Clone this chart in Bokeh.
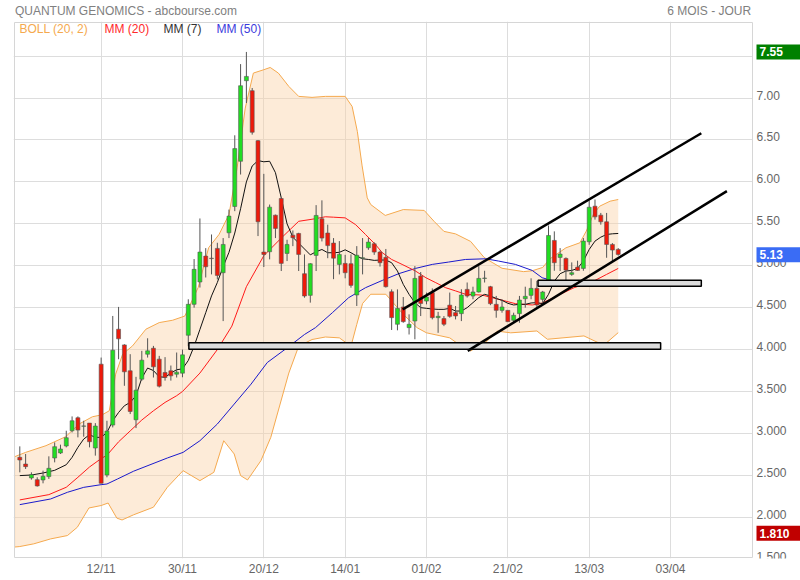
from bokeh.plotting import figure
from bokeh.models import Range1d, FixedTicker, Label, LinearAxis
from bokeh.embed import file_html
from bokeh.resources import INLINE

FONT = "Liberation Sans"

# ---------------- data ----------------
opens = [2.715, 2.635, 2.469, 2.449, 2.445, 2.485, 2.707, 2.767, 2.850, 3.032,
         3.187, 3.085, 3.123, 2.826, 3.826, 2.504, 3.100, 4.243, 4.056, 3.747,
         3.163, 3.647, 3.945, 4.016, 3.886, 3.727, 3.747, 3.707, 3.719, 4.171,
         4.540, 4.806, 5.115, 5.090, 5.207, 4.917, 5.393, 5.707, 6.246, 7.207,
         7.088, 6.492, 5.163, 5.167, 5.603, 5.802, 5.147, 5.365, 5.385, 4.905,
         4.647, 5.123, 5.560, 5.390, 5.270, 5.016, 5.028, 5.024, 4.651, 5.090,
         5.214, 5.262, 5.163, 5.100, 4.690, 4.302, 4.508, 4.262, 4.341, 4.877,
         4.579, 4.679, 4.381, 4.370, 4.530, 4.441, 4.429, 4.718, 4.639, 4.687,
         4.849, 4.750, 4.540, 4.468, 4.468, 4.349, 4.429, 4.607, 4.647, 4.730,
         4.599, 4.829, 5.302, 5.099, 5.087, 4.897, 4.984, 4.968, 5.286, 5.710,
         5.603, 5.524, 5.254, 5.195]
highs = [2.846, 2.755, 2.536, 2.477, 2.556, 2.727, 2.893, 2.866, 3.032, 3.203,
         3.203, 3.151, 3.123, 3.123, 3.905, 3.151, 4.401, 4.509, 4.064, 3.945,
         3.675, 3.985, 4.135, 4.044, 3.925, 3.910, 3.810, 3.965, 4.000, 4.600,
         5.080, 5.564, 5.210, 5.373, 5.274, 5.330, 5.670, 6.556, 7.405, 7.550,
         7.120, 6.500, 6.096, 5.730, 5.610, 5.810, 5.310, 5.421, 5.393, 5.135,
         5.030, 5.723, 5.780, 5.490, 5.330, 5.294, 5.130, 5.135, 5.234, 5.330,
         5.330, 5.280, 5.180, 5.200, 4.718, 4.718, 4.627, 4.420, 4.996, 4.925,
         4.680, 4.730, 4.450, 4.400, 4.680, 4.520, 4.720, 4.800, 4.750, 4.996,
         4.940, 4.760, 4.640, 4.600, 4.470, 4.440, 4.640, 4.750, 4.850, 4.820,
         4.700, 5.480, 5.410, 5.210, 5.100, 5.040, 5.060, 5.330, 5.778, 5.790,
         5.630, 5.630, 5.270, 5.210]
lows = [2.536, 2.576, 2.449, 2.366, 2.405, 2.457, 2.655, 2.755, 2.834, 3.012,
        2.953, 2.961, 2.834, 2.735, 2.405, 2.477, 3.072, 3.885, 3.568, 3.231,
        3.064, 3.628, 3.905, 3.667, 3.548, 3.630, 3.630, 3.667, 3.670, 4.040,
        4.500, 4.740, 4.860, 4.897, 4.837, 4.340, 5.330, 5.651, 6.088, 6.941,
        6.564, 5.354, 4.985, 5.076, 5.330, 4.937, 5.056, 5.234, 4.937, 4.619,
        4.560, 4.937, 5.290, 5.090, 4.840, 4.897, 4.850, 4.738, 4.520, 4.897,
        5.190, 5.130, 4.990, 4.740, 4.234, 4.230, 4.320, 4.180, 4.123, 4.400,
        4.540, 4.360, 4.200, 4.280, 4.380, 4.360, 4.340, 4.620, 4.600, 4.680,
        4.800, 4.530, 4.380, 4.440, 4.330, 4.330, 4.320, 4.500, 4.600, 4.500,
        4.540, 4.820, 4.940, 4.937, 4.830, 4.880, 4.940, 4.940, 5.250, 5.550,
        5.490, 5.095, 5.056, 5.120]
closes = [2.683, 2.604, 2.508, 2.374, 2.489, 2.584, 2.842, 2.814, 2.949, 3.151,
          3.040, 3.090, 2.901, 3.088, 2.405, 3.028, 3.993, 4.128, 3.735, 3.262,
          3.516, 3.874, 3.985, 3.794, 3.564, 3.667, 3.687, 3.731, 3.937, 4.540,
          4.957, 5.163, 4.988, 5.085, 4.885, 5.254, 5.592, 6.397, 7.147, 7.258,
          6.592, 5.524, 5.135, 5.699, 5.445, 5.028, 5.254, 5.334, 5.135, 4.639,
          5.024, 5.600, 5.330, 5.240, 5.090, 5.135, 4.917, 4.766, 5.125, 5.095,
          5.282, 5.163, 5.036, 4.750, 4.381, 4.492, 4.333, 4.302, 4.849, 4.550,
          4.627, 4.381, 4.397, 4.302, 4.397, 4.401, 4.651, 4.639, 4.687, 4.849,
          4.853, 4.548, 4.468, 4.508, 4.333, 4.409, 4.591, 4.635, 4.730, 4.532,
          4.687, 5.361, 5.036, 5.139, 4.948, 4.917, 4.944, 5.294, 5.698, 5.583,
          5.524, 5.254, 5.187, 5.135]

mm7_x = [0, 2, 4, 6, 8, 9, 10, 11, 12, 13, 14, 15, 16, 17, 18, 19, 20, 21, 22, 23,
         24, 25, 26, 27, 28, 29, 30, 31, 32, 33, 34, 35, 36, 37, 38, 39, 40, 41, 42,
         43, 44, 45, 46, 47, 48, 49, 50, 51, 52, 53, 54, 55, 56, 57, 58, 59, 60, 61,
         62, 63, 64, 65, 66, 67, 68, 69, 70, 71, 72, 73, 74, 75, 76, 77, 78, 79, 80,
         81, 82, 83, 84, 85, 86, 87, 88, 89, 90, 91, 92, 93, 94, 95, 96, 97, 98, 99,
         100, 101, 102, 103]
mm7_y = [2.497, 2.504, 2.528, 2.56, 2.627, 2.715, 2.834, 2.933, 2.985, 2.953, 2.953,
         3.012, 3.151, 3.25, 3.33, 3.37, 3.45, 3.66, 3.78, 3.75, 3.675, 3.67, 3.72,
         3.76, 3.77, 3.87, 4.04, 4.24, 4.44, 4.64, 4.80, 4.99, 5.16, 5.39, 5.68, 6.0,
         6.19, 6.254, 6.24, 6.246, 6.11, 5.81, 5.50, 5.34, 5.27, 5.20, 5.13, 5.167,
         5.194, 5.155, 5.155, 5.16, 5.19, 5.155, 5.115, 5.083, 5.075, 5.064, 5.068,
         5.068, 5.036, 4.937, 4.778, 4.659, 4.56, 4.50, 4.492, 4.484, 4.48, 4.48,
         4.492, 4.46, 4.46, 4.50, 4.56, 4.62, 4.659, 4.64, 4.61, 4.587, 4.552, 4.532,
         4.54, 4.54, 4.556, 4.56, 4.548, 4.659, 4.817, 4.905, 4.937, 4.944, 4.968,
         5.056, 5.194, 5.294, 5.341, 5.373, 5.381, 5.385]

mm20_x = [0, 5, 8, 10, 12, 14, 15, 17, 19, 21, 23, 25, 27, 28, 31, 34, 36.5, 39, 42,
          45, 48, 50.8, 52.6, 54, 56, 57.8, 59.5, 61.2, 62.4, 64, 65.8, 68.1, 69.9,
          71.6, 73.3, 75, 76.7, 79.6, 82.4, 85.3, 88.2, 89.6, 91.3, 93, 95.4, 98.8,
          101, 103]
mm20_y = [2.207, 2.27, 2.358, 2.477, 2.60, 2.70, 2.74, 2.90, 3.03, 3.16, 3.27, 3.37,
          3.45, 3.50, 3.72, 4.0, 4.28, 4.75, 5.12, 5.33, 5.53, 5.56, 5.584, 5.579,
          5.571, 5.49, 5.373, 5.254, 5.155, 5.075, 5.016, 4.937, 4.857, 4.798, 4.738,
          4.70, 4.66, 4.65, 4.60, 4.548, 4.532, 4.548, 4.60, 4.659, 4.738, 4.817,
          4.897, 4.968]

mm50_x = [0, 5.3, 8.2, 11, 14, 15, 16.8, 19.6, 25.4, 28.1, 31, 34, 36.9, 39.8, 42.6,
          46, 49, 50.9, 53.8, 56.6, 59.5, 62.4, 65.2, 68.1, 71, 73.8, 76.7, 80.2,
          82.4, 85.3, 88.2, 89.9, 91.6, 93.9, 99.6, 103]
mm50_y = [2.151, 2.218, 2.298, 2.357, 2.389, 2.397, 2.456, 2.55, 2.707, 2.774, 2.913,
          3.112, 3.35, 3.588, 3.846, 4.02, 4.18, 4.262, 4.44, 4.619, 4.738, 4.825,
          4.905, 4.968, 5.016, 5.044, 5.075, 5.083, 5.056, 5.016, 4.944, 4.857, 4.825,
          4.817, 4.817, 4.817]

boll_up_x = [-0.9, 1, 4.5, 7.9, 10.2, 12.5, 14.2, 15.4, 16.5, 17.7, 19.4, 21.7, 24,
             26.3, 28.4, 30.7, 32.5, 34.3, 36, 37.4, 38.8, 40.2, 42, 43.1, 44.5, 46.3,
             48, 50.3, 52.6, 56, 57.2, 58.1, 58.9, 59.8, 60.4, 62.9, 66, 69.6, 71.3,
             73, 75, 77.6, 79.9, 81.3, 83, 86.7, 88.2, 90, 91.2, 94, 96.4, 97.5, 98.7,
             99.8, 101.6, 103]
boll_up_y = [2.722, 2.774, 2.854, 2.961, 3.112, 3.199, 3.223, 3.27, 3.707, 3.945,
             4.044, 4.243, 4.322, 4.35, 4.40, 4.74, 5.215, 5.374, 5.61, 6.167, 6.88,
             7.298, 7.338, 7.365, 7.298, 7.139, 7.02, 7.008, 7.02, 7.02, 6.9, 6.6,
             6.2, 5.81, 5.73, 5.6, 5.67, 5.66, 5.53, 5.41, 5.38, 5.29, 5.10, 5.04,
             4.97, 4.93, 4.94, 4.98, 5.08, 5.214, 5.274, 5.413, 5.61, 5.71, 5.77, 5.79]
boll_lo_x = [-0.9, 0, 2.4, 5.3, 8.2, 9.9, 11.9, 14, 15.2, 16.7, 17.6, 19.6, 23, 25.4,
             28.1, 31, 33.4, 35.1, 36.9, 38, 39.2, 41.5, 43.2, 46.3, 48, 50.3, 52.6,
             55, 57, 58, 59, 60.4, 63, 66, 68.4, 70, 74, 76.4, 77.6, 80.4, 82.2, 84.5,
             89, 90.8, 97.1, 100.5, 103]
boll_lo_y = [1.645, 1.651, 1.683, 1.742, 1.782, 1.881, 2.111, 2.14, 2.17, 1.99, 1.968,
             2.03, 2.12, 2.358, 2.556, 2.437, 2.536, 2.913, 2.755, 2.497, 2.445, 2.675,
             2.953, 3.72, 4.04, 4.12, 4.15, 4.14, 4.04, 4.3, 4.55, 4.66, 4.66, 4.42,
             4.26, 4.2, 4.14, 4.02, 3.984, 4.1, 4.22, 4.2, 4.222, 4.123, 4.163, 4.052,
             4.202]

# support zones and trend channel drawn on the chart
zone_left = [29.1, 89.2]
zone_right = [110.3, 117.3]
zone_bottom = [4.005, 4.755]
zone_top = [4.083, 4.826]
trend_x0 = [65.9, 77.1]
trend_y0 = [4.48, 3.985]
trend_x1 = [117.3, 121.7]
trend_y1 = [6.58, 5.89]

tick_idx = [14, 28, 42, 56, 70, 84, 98, 112]
tick_labels = ["12/11", "30/11", "20/12", "14/01", "01/02", "21/02", "13/03", "03/04"]
price_ticks = [1.5, 2.0, 2.5, 3.0, 3.5, 4.0, 4.5, 5.0, 5.5, 6.0, 6.5, 7.0, 7.5]
price_labels = ["1.500", "2.000", "2.500", "3.000", "3.500", "4.000", "4.500", "5.000",
                "5.50", "6.00", "6.50", "7.00", "7.50"]
max_price, last_price, min_price = 7.55, 5.13, 1.810
title_text = "QUANTUM GENOMICS - abcbourse.com"
period_text = "6 MOIS - JOUR"

# ---------------- geometry helpers (pixel -> data) ----------------
PX_X = 5.81        # pixels per candle
PX_Y = 84.0        # pixels per price unit
def dx(px):
    return (px - 19.3) / PX_X
def dy(py):
    return 4.0 - (py - 348.7) / PX_Y

X0, X1 = dx(13), dx(800)          # frame (extends under the price scale)
Y0, Y1 = dy(558), dy(20)
BX0, BX1 = dx(14), dx(752)        # visible chart box
BY0, BY1 = dy(557), dy(21)
LABEL_LIFT = 3.0 / PX_Y           # price labels sit 3px above their grid lines

p = figure(width=800, height=580, x_range=Range1d(X0, X1), y_range=Range1d(Y0, Y1),
           output_backend="svg", toolbar_location=None, y_axis_location="right",
           min_border_left=13, min_border_right=0, min_border_top=20,
           min_border_bottom=22)
p.outline_line_color = None
p.background_fill_color = "white"
p.border_fill_color = "white"

for g in (p.xgrid[0], p.ygrid[0]):
    g.grid_line_color = "#dddddd"
p.xgrid[0].ticker = FixedTicker(ticks=tick_idx)
p.ygrid[0].ticker = FixedTicker(ticks=price_ticks)

xa = p.xaxis[0]
xa.ticker = FixedTicker(ticks=tick_idx)
xa.major_label_overrides = {t: l for t, l in zip(tick_idx, tick_labels)}
ya = p.yaxis[0]
ya.fixed_location = BX1
label_pos = [t + LABEL_LIFT for t in price_ticks]
ya.ticker = FixedTicker(ticks=label_pos)
ya.major_label_overrides = {t: l for t, l in zip(label_pos, price_labels)}

# header texts as labels of an axis above the chart
title_pos = [dx(125.4), dx(708.7)]
ta = LinearAxis(ticker=FixedTicker(ticks=title_pos),
                major_label_overrides={title_pos[0]: title_text,
                                       title_pos[1]: period_text})
p.add_layout(ta, "above")

for ax in (xa, ya, ta):
    ax.axis_line_color = None
    ax.major_tick_line_color = None
    ax.minor_tick_line_color = None
    ax.major_tick_out = 0
    ax.major_tick_in = 0
    ax.minor_tick_out = 0
    ax.minor_tick_in = 0
    ax.major_label_text_font = FONT
    ax.major_label_text_font_size = "12px"
    ax.major_label_text_color = "#666666"
    ax.major_label_standoff = 4
xa.major_label_standoff = 3
ta.major_label_text_color = "#808080"
ta.major_label_standoff = 4

# white area under the price scale, then the chart box
p.quad(left=[BX1], right=[X1], bottom=[Y0], top=[Y1], fill_color="white",
       line_color=None)

# Bollinger band
band_x = boll_up_x + boll_lo_x[::-1]
band_y = boll_up_y + boll_lo_y[::-1]
p.patch(band_x, band_y, fill_color="#fad3a8", fill_alpha=0.45, line_color=None)
p.line(boll_lo_x[::-1] + boll_up_x, boll_lo_y[::-1] + boll_up_y,
       line_color="#f5a94e", line_width=1)

# moving averages
p.line(mm50_x, mm50_y, line_color="#1a1acc", line_width=1)
p.line(mm20_x, mm20_y, line_color="#ff1a1a", line_width=1)
p.line(mm7_x, mm7_y, line_color="#111111", line_width=1)

# candles
idx = list(range(len(closes)))
tops = [max(o, c) for o, c in zip(opens, closes)]
bots = [min(o, c) for o, c in zip(opens, closes)]
cols = ["#22dd22" if c >= o else "#ee1a0a" for o, c in zip(opens, closes)]
p.segment(idx, highs, idx, lows, line_color="#555555", line_width=1)
p.vbar(x=idx, top=tops, bottom=bots, width=0.68, fill_color=cols,
       line_color="#555555", line_width=0.6)

# support zones and trend lines
p.quad(left=zone_left, right=zone_right, bottom=zone_bottom, top=zone_top,
       fill_color="#dcdcdc", line_color="black", line_width=1.5)
p.segment(trend_x0, trend_y0, trend_x1, trend_y1, line_color="black", line_width=2.5)

# chart box outline
p.quad(left=[BX0], right=[BX1], bottom=[BY0], top=[BY1], fill_color=None,
       line_color="#d6d6d6", line_width=1)

# legend texts
leg = [("BOLL (20, 2)", "#f5a94e", dx(19)), ("MM (20)", "#ff2a2a", dx(104)),
       ("MM (7)", "#333333", dx(163)), ("MM (50)", "#3b3bdd", dx(216))]
for txt, col, lx in leg:
    p.add_layout(Label(x=lx, y=dy(28), text=txt, text_font=FONT,
                       text_font_size="12px", text_color=col, text_baseline="middle",
                       text_align="left"))

# price markers on the scale
for val, txt, bg in [(max_price, "7.55", "#008000"), (last_price, "5.13", "#3a6cf5"),
                     (min_price, "1.810", "#c00000")]:
    p.add_layout(Label(x=BX1, y=val, x_offset=4, text=txt, text_font=FONT,
                       text_font_size="12px", text_font_style="bold", text_color="white",
                       text_baseline="middle", text_align="left",
                       background_fill_color=bg,
                       padding=dict(left=3, right=30, top=3, bottom=3)))

open("out.html", "w").write(file_html(p, INLINE))
